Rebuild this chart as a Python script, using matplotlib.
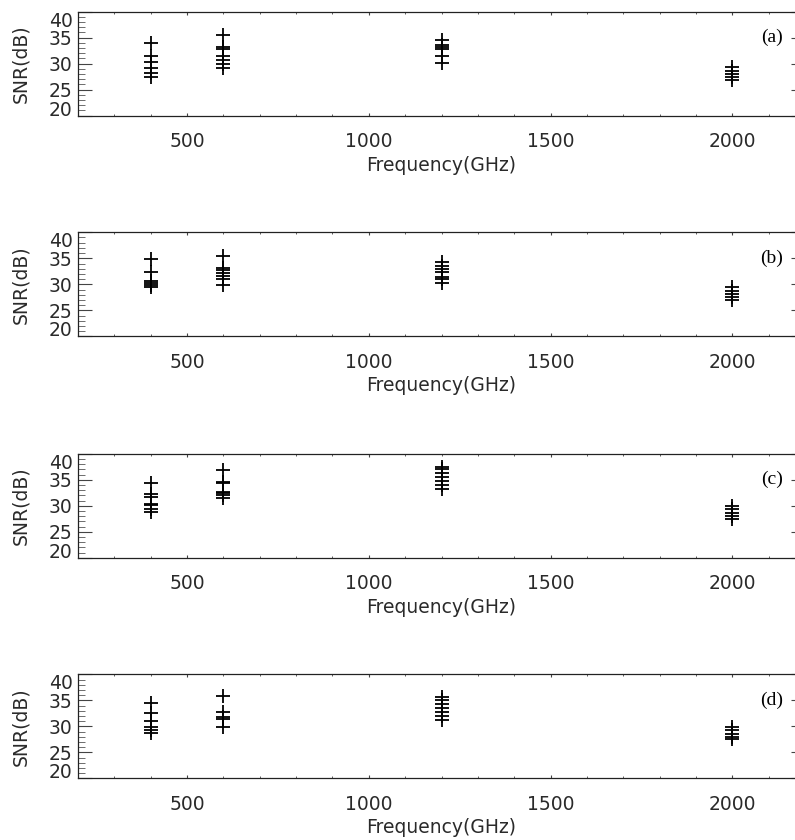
import matplotlib
matplotlib.use("Agg")
import matplotlib.pyplot as plt
from matplotlib.ticker import MultipleLocator

freqs = [400, 600, 1200, 2000]
panel_tags = ['(a)', '(b)', '(c)', '(d)']
snr_ticks = [20, 25, 30, 35, 40]

# SNR (dB) of each run, grouped per frequency: 400, 600, 1200, 2000 GHz
snr_a = [[34.0, 31.4, 30.3, 29.2, 28.3, 27.4],
         [35.6, 33.2, 32.8, 31.4, 30.7, 29.9, 29.2],
         [34.6, 33.6, 33.3, 32.9, 31.5, 30.1],
         [29.3, 28.6, 28.0, 27.4, 26.9]]
snr_b = [[34.8, 32.4, 30.7, 30.3, 29.8, 29.4],
         [35.5, 33.2, 32.7, 32.1, 31.6, 31.1, 29.8],
         [34.2, 33.5, 33.0, 32.3, 31.5, 31.0, 30.2],
         [29.4, 28.8, 28.2, 27.6, 27.0]]
snr_c = [[34.4, 32.2, 31.7, 30.3, 30.1, 29.3, 28.7],
         [36.8, 34.6, 34.4, 32.6, 32.4, 32.1, 31.5],
         [37.5, 37.0, 36.2, 35.5, 34.8, 34.0, 33.3],
         [29.9, 29.3, 28.6, 28.0, 27.4]]
snr_d = [[34.4, 32.5, 31.1, 29.8, 29.3, 28.8],
         [35.8, 32.8, 31.7, 31.4, 29.9],
         [35.7, 35.0, 34.3, 33.6, 32.8, 32.0, 31.2],
         [29.8, 29.2, 28.6, 28.0, 27.6]]
all_snr = [snr_a, snr_b, snr_c, snr_d]

W, H = 795, 840
fig = plt.figure(figsize=(W / 100, H / 100), dpi=100)

# pixel boxes of the four panels: left, right, tops, height
left_px, right_px = 78, 805
tops_px = [11.7, 232.3, 453.7, 674.3]
panel_h = 104

txt_col = '#2a2a2a'

for i, snr in enumerate(all_snr):
    top = tops_px[i]
    ax = fig.add_axes([left_px / W, 1 - (top + panel_h) / H,
                       (right_px - left_px) / W, panel_h / H])
    for f, vals in zip(freqs, snr):
        ax.plot([f] * len(vals), vals, linestyle='none', marker='+',
                markersize=9.5, markeredgewidth=1.3, color='black')

    ax.xaxis.set_major_locator(MultipleLocator(500))
    ax.xaxis.set_minor_locator(MultipleLocator(100))
    ax.set_yticks(snr_ticks)
    ax.yaxis.set_minor_locator(MultipleLocator(1))
    ax.set_xlim(200, 2200)
    ax.set_ylim(20, 40)

    ax.tick_params(axis='x', which='major', direction='in', top=True,
                   length=2.2, width=0.8, pad=12, labelsize=13.5,
                   labelcolor=txt_col, color='#444')
    ax.tick_params(axis='x', which='minor', direction='in', top=True,
                   length=1.4, width=0.6, color='#444')
    ax.tick_params(axis='y', which='major', direction='in', right=True,
                   length=10, width=0.8, pad=4, labelsize=13.5,
                   labelcolor=txt_col, color='#444')
    ax.tick_params(axis='y', which='minor', direction='in', right=False,
                   length=5, width=0.6, color='#555')

    # end labels sit inside the frame, like the old IDL output
    yt = ax.yaxis.get_major_ticks()
    yt[0].label1.set_va('baseline')
    yt[-1].label1.set_va('top')

    for sp in ax.spines.values():
        sp.set_linewidth(0.9)
        sp.set_color('#222')

    ax.set_xlabel('Frequency(GHz)', fontsize=13.5, color=txt_col, labelpad=3)
    ax.set_ylabel('SNR(dB)', fontsize=13.5, color=txt_col, labelpad=13)

    ax.text(2140, 35, panel_tags[i], ha='right', va='center',
            fontsize=14, family='Liberation Serif', color='black')

fig.savefig('out.png', dpi=100)
